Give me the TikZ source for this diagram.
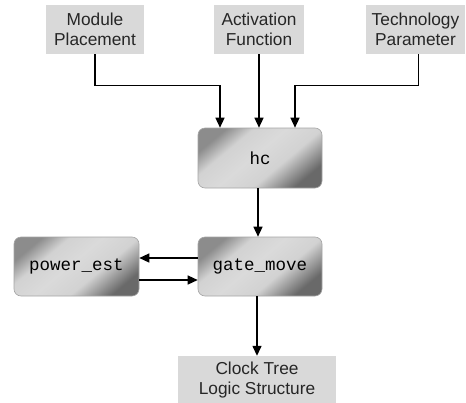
\documentclass[tikz,border=0pt]{standalone}
\usepackage{fontspec}
\setmainfont{Liberation Sans}
\setmonofont{Liberation Mono}
\usetikzlibrary{arrows.meta}
\definecolor{lbox}{RGB}{217,217,217}
\definecolor{sdarka}{RGB}{140,140,140}
\definecolor{sdarkb}{RGB}{105,105,105}
\definecolor{slight}{RGB}{218,218,218}
\definecolor{smid}{RGB}{210,210,210}
\definecolor{edge}{RGB}{165,165,165}
\pgfdeclarehorizontalshading{boxshade}{100bp}{color(0bp)=(sdarka); color(25bp)=(sdarka); color(35bp)=(smid); color(47bp)=(slight); color(60bp)=(smid); color(75bp)=(sdarkb); color(100bp)=(sdarkb)}
\tikzset{
  inbox/.style={fill=lbox, draw=none, inner sep=0pt, align=center,
    font=\fontsize{17.3}{20}\selectfont, text=black!85},
  procbox/.style={draw=edge, line width=0.6pt, rounded corners=7pt, shading=boxshade, shading angle=-50,
    minimum width=124pt, minimum height=59pt, inner sep=0pt,
    font=\fontsize{17.5}{20}\selectfont\ttfamily, text=black},
  arr/.style={line width=1.4pt, -{Triangle[length=10pt,width=9pt]}}
}
\begin{document}
\begin{tikzpicture}[x=1pt,y=-1pt]
\useasboundingbox (0,0) rectangle (466,402);
\node[inbox, minimum width=98pt, minimum height=49pt] (mp) at (95,29.5) {Module\\Placement};
\node[inbox, minimum width=90pt, minimum height=49pt] (af) at (259,29.5) {Activation\\Function};
\node[inbox, minimum width=99pt, minimum height=49pt] (tp) at (415.5,29.5) {Technology\\Parameter};
\node[procbox, minimum height=60pt] (hc) at (260,158) {hc};
\node[procbox] (gm) at (260,266.5) {gate\_move};
\node[procbox, minimum width=125pt] (pe) at (76.5,266.5) {power\_est};
\node[inbox, minimum width=158pt, minimum height=49pt] (ct) at (257,380.5) {Clock Tree\\Logic Structure};
\draw[arr] (mp.south) -- ++(0,31) -| ([xshift=-40pt]hc.north);
\draw[arr] (af.south) -- (af.south |- hc.north);
\draw[arr] ([xshift=3pt]tp.south) -- ++(0,31) -| ([xshift=35pt]hc.north);
\draw[arr] ([xshift=-2pt]hc.south) -- ([xshift=-2pt]gm.north);
\draw[arr] ([yshift=8.5pt]gm.west) -- ([yshift=8.5pt]gm.west -| pe.east);
\draw[arr] ([yshift=-13.5pt]pe.east) -- ([yshift=-13.5pt]pe.east -| gm.west);
\draw[arr] ([xshift=-3pt]gm.south) -- ([xshift=-3pt]gm.south |- ct.north);
\end{tikzpicture}
\end{document}
